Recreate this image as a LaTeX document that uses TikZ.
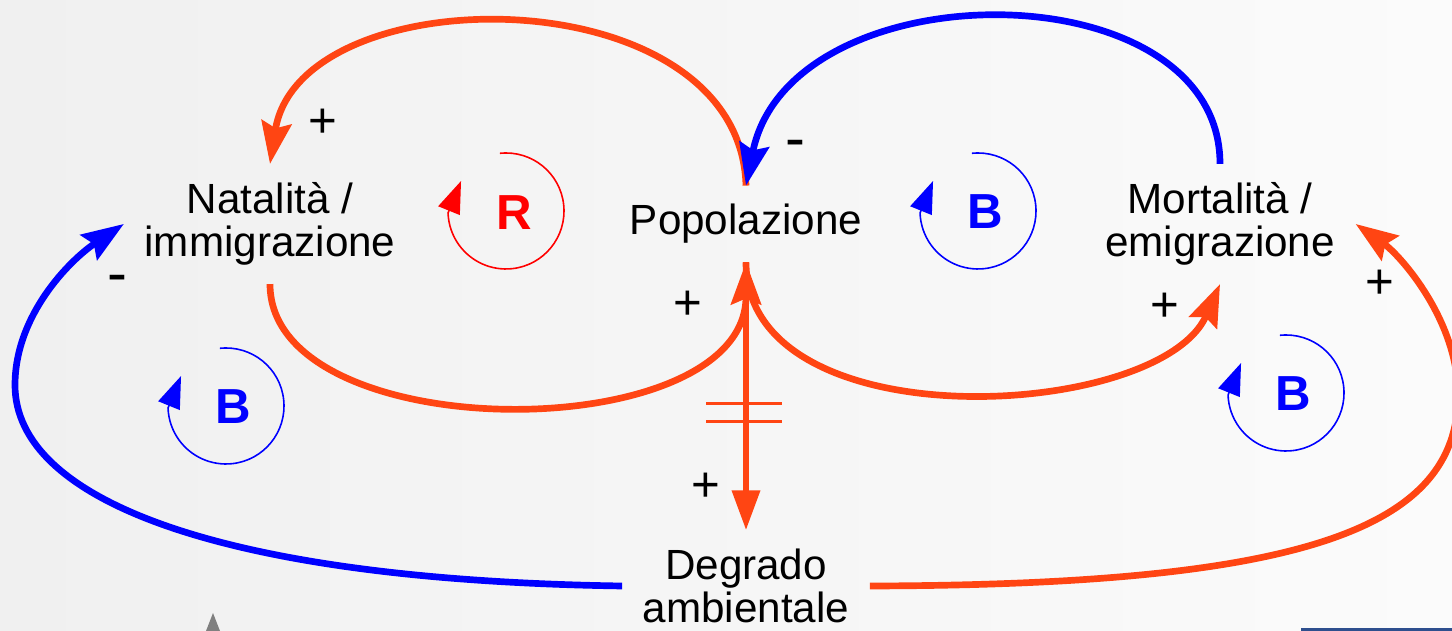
\documentclass[tikz,border=0pt]{standalone}
\usepackage{fontspec}
\setmainfont{Liberation Sans}
\usetikzlibrary{arrows.meta,calc}
\definecolor{cldRed}{HTML}{FF4513}
\definecolor{cldBlue}{HTML}{0000FF}
\definecolor{loopRed}{HTML}{FF0000}
\definecolor{bgLeft}{HTML}{F0F0F0}
\definecolor{bgRight}{HTML}{FBFBFB}
\definecolor{barBlue}{HTML}{2E4F8E}

\begin{document}
\begin{tikzpicture}[
    x=0.01cm, y=0.01cm,
    var/.style={align=center, inner xsep=0.2cm, inner ysep=0.18cm,
                font=\fontsize{12}{12.2}\selectfont},
    link/.style={line width=1.9pt,
                 -{Stealth[length=0.42cm, width=0.3cm, inset=0.06cm]}},
    sign/.style={font=\fontsize{14}{14}\selectfont, inner sep=0pt},
    minus/.style={sign, font=\fontsize{17}{17}\selectfont},
    looplbl/.style={font=\bfseries\fontsize{14}{14}\selectfont, inner sep=0pt},
    loopline/.style={line width=0.45pt,
                     -{Triangle[length=0.32cm, width=0.23cm]}},
    delay/.style={cldRed, line width=0.85pt},
  ]
  \useasboundingbox (0,0) rectangle (1452,631);
  \shade[left color=bgLeft, right color=bgRight] (0,0) rectangle (1452,631);
  % slide leftovers at the bottom
  \fill[gray] (206,0) -- (213,18) -- (220,0) -- cycle;
  \fill[barBlue] (1301,0) rectangle (1452,3);

  % Variables
  \node[var] (nat) at (270,407) {Natalità /\\immigrazione};
  \node[var] (pop) at (746,407) {Popolazione};
  \node[var] (mort) at (1220,407) {Mortalità /\\emigrazione};
  \node[var] (deg) at (746,45) {Degrado\\ambientale};

  % Births loop
  \draw[link, cldRed] (pop.north) .. controls (740,657) and (300,657) .. (nat.north);
  \draw[link, cldRed] (nat.south) .. controls (270,182) and (746,182) .. (pop.south);

  % Deaths loop
  \draw[link, cldRed] (pop.south) .. controls (746,188) and (1160,210) .. (mort.south);
  \draw[link, cldBlue] (mort.north) .. controls (1220,664) and (790,664) .. (pop.north);

  % Degradation, with delay
  \draw[link, cldRed, -{Triangle[length=0.4cm, width=0.27cm]}] (pop.south) -- (deg.north);
  \draw[delay] ($(pop.south)!0.528!(deg.north)$) +(-40,0) -- +(36,0);
  \draw[delay] ($(pop.south)!0.595!(deg.north)$) +(-40,0) -- +(36,0);
  \draw[link, cldBlue] (deg.west) .. controls (220,51) and (15,131) .. (15,246)
    .. controls (15,316) and (70,371) .. (nat.west);
  \draw[link, cldRed] (deg.east) .. controls (1300,46) and (1458,101) .. (1458,236)
    .. controls (1458,311) and (1400,376) .. (mort.east);

  % Polarities
  \node[sign] (s1) at (323,508) {+};
  \node[minus] (s2) at (795,482) {-};
  \node[sign] (s3) at (688,326) {+};
  \node[sign] (s4) at (1165,324) {+};
  \node[sign] (s5) at (706,144) {+};
  \node[minus] (s6) at (117,347) {-};
  \node[sign] (s7) at (1380,347) {+};

  % Loop markers
  \node[looplbl, loopRed] (lr) at (514,418) {R};
  \draw[loopline, loopRed] ($(lr)+(-8,2)+(96:58)$)
    arc[start angle=96, end angle=-178, radius=58] -- ++(13,32);
  \node[looplbl, cldBlue] (lb1) at (985,419) {B};
  \draw[loopline, cldBlue] ($(lb1)+(-7,1)+(96:58)$)
    arc[start angle=96, end angle=-178, radius=58] -- ++(13,32);
  \node[looplbl, cldBlue] (lb2) at (233,224) {B};
  \draw[loopline, cldBlue] ($(lb2)+(-7,1)+(96:58)$)
    arc[start angle=96, end angle=-178, radius=58] -- ++(13,32);
  \node[looplbl, cldBlue] (lb3) at (1293,237) {B};
  \draw[loopline, cldBlue] ($(lb3)+(-7,1)+(96:58)$)
    arc[start angle=96, end angle=-178, radius=58] -- ++(13,32);
\end{tikzpicture}
\end{document}
